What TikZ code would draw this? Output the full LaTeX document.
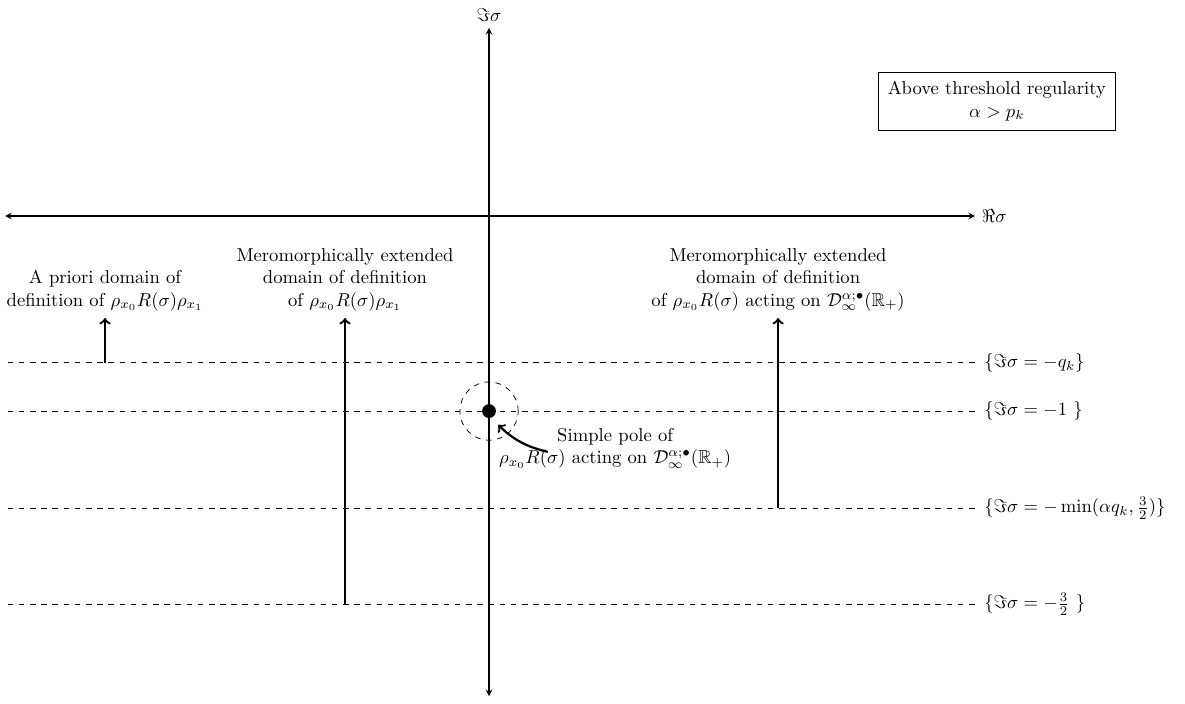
\documentclass[tikz,border=0pt]{standalone}
\usepackage{amsmath,amssymb}
\usetikzlibrary{positioning}

\tikzset{
  axis/.style={semithick,<->,>=stealth},
  level/.style={dashed},
  domain arrow/.style={very thick,->},
  lab/.style={align=center},
}

\begin{document}
\begin{tikzpicture}
    \useasboundingbox (-9.226,4.075) rectangle (13.13,-9.19);

    % Axes
    \coordinate (W) at (-9.13,0);
    \coordinate (E) at (9.17,0);
    \coordinate (S) at (0,-9.06);
    \coordinate (N) at (0,3.55);
    \draw[axis] (W) -- (E) node[right] {$\Re\sigma$};
    \draw[axis] (S) -- (N) node[above] {$\Im\sigma$};

    % Levels
    \foreach \y/\lvl/\txt in {-2.77/qk/{$\{\Im\sigma=-q_k\}$},
                              -3.68/one/{$\{\Im\sigma=-1\ \}$},
                              -5.51/mn/{$\{\Im\sigma=-\min(\alpha q_k,\frac{3}{2})\}$},
                              -7.32/th/{$\{\Im\sigma=-\frac{3}{2}\ \}$}} {
        \coordinate (\lvl-w) at (-9.08,\y);
        \coordinate (\lvl-e) at (9.17,\y);
        \draw[level] (\lvl-w) -- (\lvl-e) node[right=0.5mm] {\txt};
    }

    % A priori domain
    \coordinate (apriori-tip) at (-7.245,-1.925);
    \draw[domain arrow] (-7.245,-2.77) coordinate (apriori-base) -- (apriori-tip)
        node[above,lab] {A priori domain of\\definition of $\rho_{x_0}R(\sigma)\rho_{x_1}$};

    % Meromorphic extension, weighted
    \coordinate (mero-tip) at (-2.717,-1.925);
    \draw[domain arrow] (-2.717,-7.32) coordinate (mero-base) -- (mero-tip)
        node[above,lab] {Meromorphically extended\\domain of definition\\of $\rho_{x_0}R(\sigma)\rho_{x_1}$};

    % Meromorphic extension, on D
    \coordinate (meroD-tip) at (5.453,-1.925);
    \draw[domain arrow] (5.453,-5.51) coordinate (meroD-base) -- (meroD-tip)
        node[above,lab] {Meromorphically extended\\domain of definition\\of $\rho_{x_0}R(\sigma)$ acting on $\mathcal{D}^{\alpha;\bullet}_\infty(\mathbb{R}_+)$};

    % Pole
    \node[circle,fill,inner sep=0pt,minimum size=0.26cm] (pole) at (0,-3.68) {};
    \draw[dashed] (pole.center) circle (0.55);
    \node[lab] (pole-lab) at (2.38,-4.38) {Simple pole of\\$\rho_{x_0}R(\sigma)$ acting on $\mathcal{D}^{\alpha;\bullet}_\infty(\mathbb{R}_+)$};
    \coordinate (pole-tail) at (1.11,-4.45);
    \coordinate (pole-head) at (0.17,-3.94);
    \draw[domain arrow] (pole-tail) to[bend left=15] (pole-head);

    % Regularity
    \node[draw,lab,inner sep=5pt] (reg) at (9.58,2.17) {Above threshold regularity\\$\alpha>p_k$};
\end{tikzpicture}
\end{document}
